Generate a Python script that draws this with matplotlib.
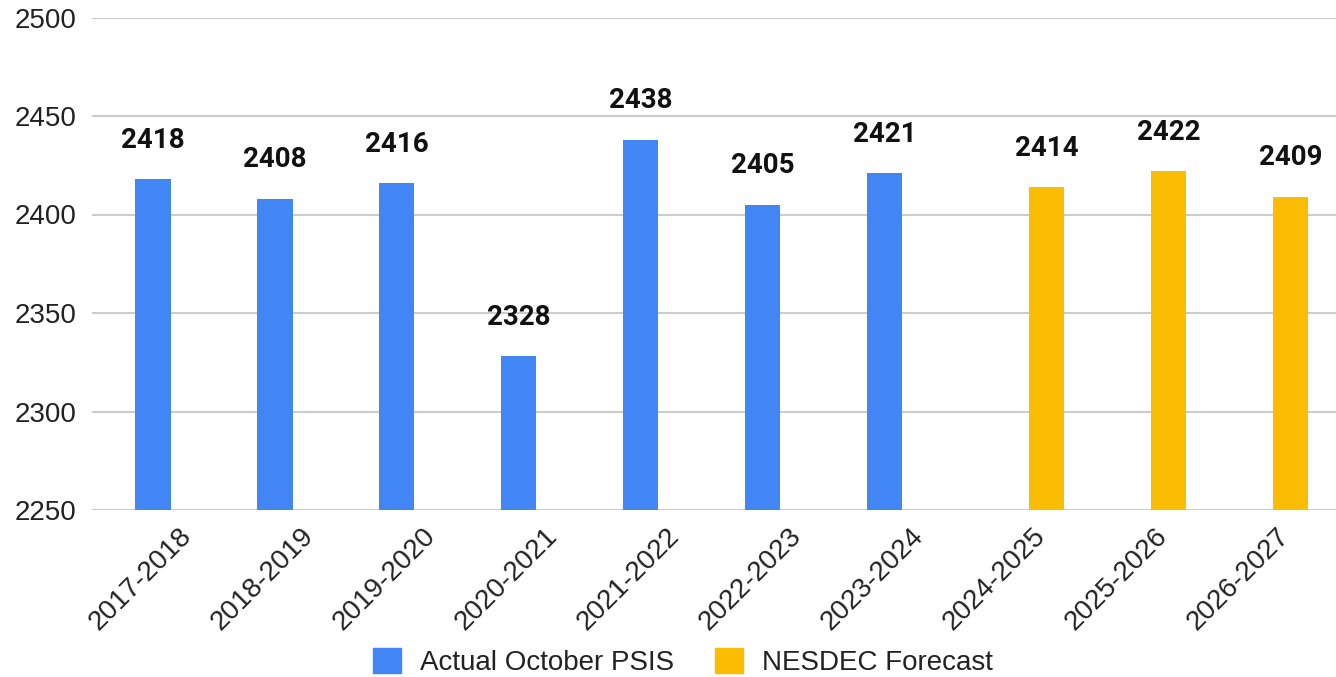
import numpy as np
import matplotlib.pyplot as plt
from matplotlib.patches import Patch

# school years on the x axis
years = ["2017-2018", "2018-2019", "2019-2020", "2020-2021", "2021-2022",
         "2022-2023", "2023-2024", "2024-2025", "2025-2026", "2026-2027"]
# actual enrolment (blank for forecast years) and forecast (blank for actual years)
actual = [2418, 2408, 2416, 2328, 2438, 2405, 2421, None, None, None]
forecast = [None, None, None, None, None, None, None, 2414, 2422, 2409]

BLUE = "#4285F4"
YELLOW = "#FBBC04"

plt.rcParams["font.family"] = ["Liberation Sans", "DejaVu Sans"]

fig = plt.figure(figsize=(13.36, 6.77), dpi=100)
ax = fig.add_axes([92 / 1336, 1 - 510 / 677, 1244 / 1336, (510 - 17.5) / 677])

x = np.arange(len(years))
width = 0.287
off = 0.164

a_vals = np.array([np.nan if v is None else v for v in actual], dtype=float)
f_vals = np.array([np.nan if v is None else v for v in forecast], dtype=float)

ax.bar(x - off, a_vals - 2250, width, bottom=2250, color=BLUE, zorder=3)
ax.bar(x + off, f_vals - 2250, width, bottom=2250, color=YELLOW, zorder=3)

# data labels above each bar
for xs, vals in ((x - off, a_vals), (x + off, f_vals)):
    for xi, v in zip(xs, vals):
        if np.isnan(v):
            continue
        ax.annotate(f"{int(v)}", (xi, v), xytext=(0, 28), textcoords="offset points",
                    ha="center", va="center", fontsize=20, fontweight="bold",
                    family=["Roboto", "DejaVu Sans"], color="#111111")

ax.set_ylim(2250, 2500)
ax.set_yticks([2250, 2300, 2350, 2400, 2450, 2500])
ax.set_xlim(-0.664, 9.533)
# rotated labels sit a little right of the group centre, as in the sheet export
ax.set_xticks(x + 0.12)
ax.set_xticklabels(years, rotation=45, ha="right", va="center",
                   rotation_mode="anchor", fontsize=20, color="#222222")

ax.tick_params(axis="x", length=0, pad=16)
ax.tick_params(axis="y", length=0, pad=11, labelsize=20, labelcolor="#222222")

ax.grid(axis="y", color="#cccccc", linewidth=1.5, zorder=0)
for s in ax.spines.values():
    s.set_visible(False)

handles = [Patch(color=BLUE, label="Actual October PSIS"),
           Patch(color=YELLOW, label="NESDEC Forecast")]
fig.legend(handles=handles, loc="center", bbox_to_anchor=(683 / 1336, 1 - 662 / 677),
           ncol=2, frameon=False, fontsize=20, handlelength=1.0, handleheight=1.0,
           handletextpad=0.7, columnspacing=1.45, labelcolor="#222222")

fig.savefig("out.png", dpi=100)
